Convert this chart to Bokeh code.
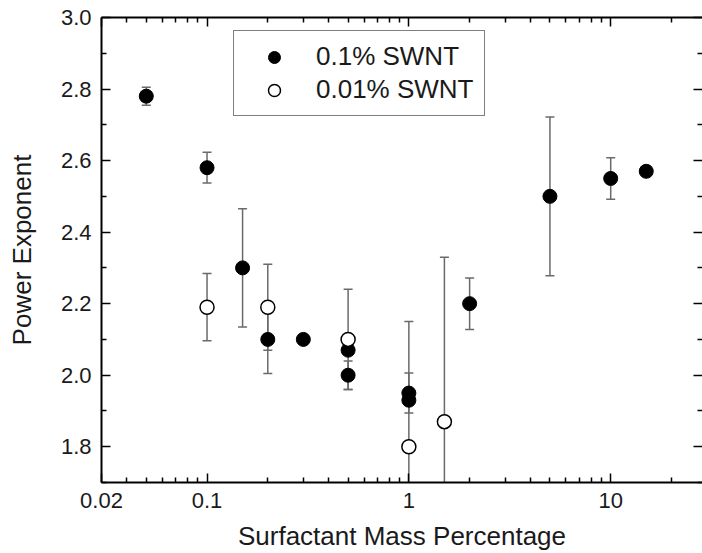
from bokeh.plotting import figure
from bokeh.models import (ColumnDataSource, Whisker, FixedTicker, LogAxis, LinearAxis,
                          Legend, LegendItem, PrintfTickFormatter, TeeHead, Range1d)
from bokeh.embed import file_html
from bokeh.resources import INLINE

# ---- data ----
filled_x = [0.05, 0.1, 0.15, 0.2, 0.3, 0.5, 0.5, 1, 1, 2, 5, 10, 15]
filled_y = [2.78, 2.58, 2.30, 2.10, 2.10, 2.07, 2.00, 1.95, 1.93, 2.20, 2.50, 2.55, 2.57]
filled_err = [0.025, 0.043, 0.165, 0.095, 0, 0, 0.04, 0.056, 0, 0.072, 0.222, 0.058, 0]

open_x = [0.1, 0.2, 0.5, 1, 1.5]
open_y = [2.19, 2.19, 2.10, 1.80, 1.87]
open_err = [0.094, 0.12, 0.14, 0.35, 0.46]

series_labels = ["0.1% SWNT", "0.01% SWNT"]

x_ticks = [0.03, 0.1, 1, 10]
x_tick_labels = ["0.02", "0.1", "1", "10"]
x_minor = [0.04, 0.05, 0.06, 0.07, 0.08, 0.09,
           0.2, 0.3, 0.4, 0.5, 0.6, 0.7, 0.8, 0.9,
           2, 3, 4, 5, 6, 7, 8, 9, 20]
y_ticks = [1.8, 2.0, 2.2, 2.4, 2.6, 2.8, 3.0]
y_minor = [1.7, 1.9, 2.1, 2.3, 2.5, 2.7, 2.9]

FONT = "Liberation Sans"
TXT = "#1a1a1a"
ERR = "#6a6a6a"

p = figure(width=702, height=553, x_axis_type="log",
           x_range=Range1d(0.03, 28.5), y_range=Range1d(1.7, 3.0),
           output_backend="svg", toolbar_location=None,
           min_border_left=101, min_border_right=0, min_border_top=17, min_border_bottom=70,
           background_fill_color="white", border_fill_color="white")
p.grid.visible = False
p.outline_line_color = None

xticker = FixedTicker(ticks=x_ticks, minor_ticks=x_minor)
yticker = FixedTicker(ticks=y_ticks, minor_ticks=y_minor)

def style_axis(ax, labels=True):
    ax.axis_line_color = "black"
    ax.axis_line_width = 2
    ax.major_tick_in = 9
    ax.major_tick_out = 0
    ax.minor_tick_in = 5
    ax.minor_tick_out = 0
    ax.major_tick_line_color = "black"
    ax.minor_tick_line_color = "black"
    ax.major_tick_line_width = 1.5
    ax.minor_tick_line_width = 1.5
    if labels:
        ax.major_label_text_font = FONT
        ax.major_label_text_font_size = "22px"
        ax.major_label_text_color = TXT
        ax.axis_label_text_font = FONT
        ax.axis_label_text_font_size = "26px"
        ax.axis_label_text_font_style = "normal"
        ax.axis_label_text_color = TXT
    else:
        ax.major_label_text_font_size = "1px"
        ax.major_label_text_alpha = 0
        ax.major_label_standoff = 0

xa = p.xaxis[0]
xa.ticker = xticker
xa.major_label_overrides = dict(zip(x_ticks, x_tick_labels))
xa.axis_label = "Surfactant Mass Percentage"
style_axis(xa)
xa.major_label_standoff = 10
xa.axis_label_standoff = 10

ya = p.yaxis[0]
ya.ticker = yticker
ya.formatter = PrintfTickFormatter(format="%.1f")
ya.axis_label = "Power Exponent"
style_axis(ya)
ya.major_label_standoff = 10
ya.axis_label_standoff = 21

top = LogAxis(ticker=xticker)
style_axis(top, labels=False)
p.add_layout(top, "above")

right = LinearAxis(ticker=yticker)
style_axis(right, labels=False)
right.axis_line_color = None
p.add_layout(right, "right")

# ---- error bars ----
fe = [(x, y, e) for x, y, e in zip(filled_x, filled_y, filled_err) if e > 0]
oe = [(x, y, e) for x, y, e in zip(open_x, open_y, open_err) if e > 0]
for rows in (fe, oe):
    src = ColumnDataSource(dict(x=[r[0] for r in rows],
                                lower=[r[1] - r[2] for r in rows],
                                upper=[r[1] + r[2] for r in rows]))
    w = Whisker(source=src, base="x", lower="lower", upper="upper", dimension="height",
                line_color=ERR, line_width=1.5,
                upper_head=TeeHead(size=9, line_color=ERR, line_width=1.5),
                lower_head=TeeHead(size=9, line_color=ERR, line_width=1.5))
    p.add_layout(w)

# ---- markers ----
r_f = p.scatter(filled_x, filled_y, marker="circle", size=14,
                fill_color="black", line_color="black", line_width=1)
r_o = p.scatter(open_x, open_y, marker="circle", size=14,
                fill_color="white", line_color="black", line_width=1.5)

legend = Legend(items=[LegendItem(label=series_labels[0], renderers=[r_f]),
                       LegendItem(label=series_labels[1], renderers=[r_o])],
                location=(132, 366), margin=0, padding=10, spacing=2,
                glyph_width=60, glyph_height=30, label_height=30, label_standoff=12,
                label_text_font=FONT, label_text_font_size="26px", label_text_color=TXT,
                border_line_color="black", border_line_width=1.5,
                background_fill_color="white", background_fill_alpha=1)
p.add_layout(legend)

open("out.html", "w").write(file_html(p, INLINE))
